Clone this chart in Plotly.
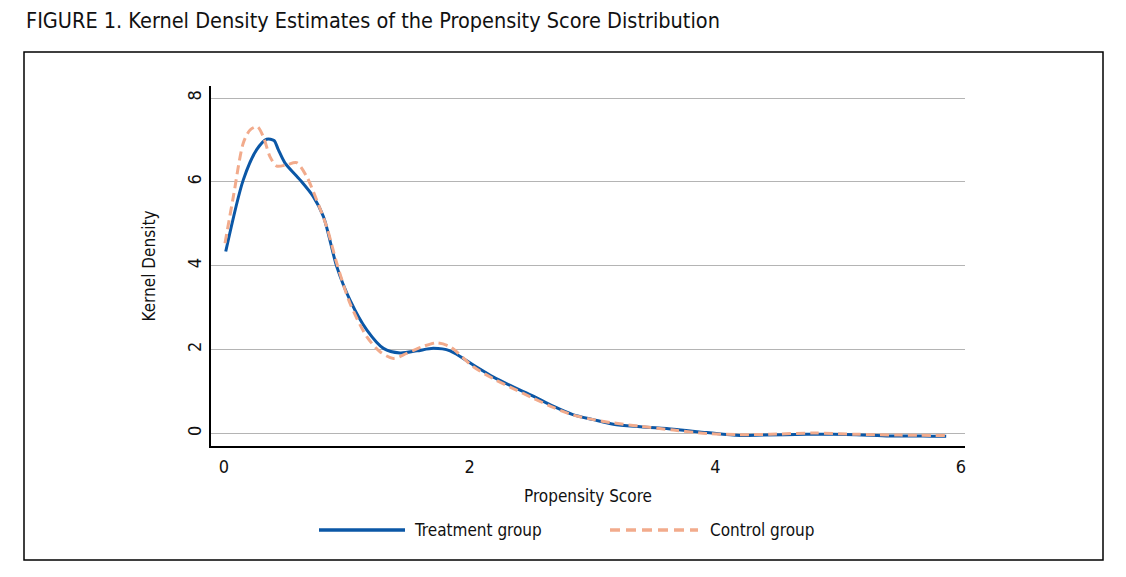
import plotly.graph_objects as go

# Kernel density curves
treat_x = [0.014, 0.157, 0.266, 0.347, 0.407, 0.442, 0.497, 0.619, 0.727, 0.81, 0.918, 1.026,
           1.162, 1.298, 1.433, 1.57, 1.705, 1.84, 2.03, 2.19, 2.355, 2.518, 2.68, 2.84,
           3.007, 3.17, 3.39, 3.66, 3.93, 4.2, 4.39, 4.74, 4.96, 5.15, 5.42, 5.69, 5.88]
treat_y = [4.34, 6.05, 6.77, 7.02, 6.99, 6.77, 6.45, 6.05, 5.65, 5.17, 3.98, 3.18,
           2.47, 2.03, 1.92, 1.97, 2.03, 1.97, 1.63, 1.35, 1.11, 0.89, 0.65, 0.45,
           0.33, 0.22, 0.16, 0.10, 0.02, -0.05, -0.04, -0.02, -0.02, -0.03, -0.06, -0.06, -0.07]

ctrl_x = [0.008, 0.076, 0.157, 0.212, 0.271, 0.32, 0.375, 0.429, 0.51, 0.591, 0.673, 0.754,
          0.836, 0.918, 1.026, 1.162, 1.27, 1.379, 1.487, 1.623, 1.731, 1.84, 2.03, 2.19,
          2.355, 2.518, 2.68, 2.84, 3.007, 3.17, 3.39, 3.66, 3.93, 4.2, 4.45, 4.8, 5.15,
          5.5, 5.88]
ctrl_y = [4.54, 5.65, 6.93, 7.24, 7.32, 7.08, 6.6, 6.38, 6.41, 6.46, 6.13, 5.57,
          4.93, 4.06, 3.10, 2.31, 1.95, 1.79, 1.91, 2.08, 2.16, 2.07, 1.59, 1.31,
          1.07, 0.84, 0.62, 0.44, 0.33, 0.25, 0.17, 0.08, 0.0, -0.03, -0.02, 0.01, -0.02,
          -0.04, -0.05]

x_ticks = [0, 2, 4, 6]
y_ticks = [0, 2, 4, 6, 8]

BLUE = '#0b57a6'
SALMON = '#f2ab8c'
FONT = 'DejaVu Sans Condensed, Liberation Sans Narrow, Arial Narrow, sans-serif'

# the page body has an 8px margin, so pixel positions below are page px - 8
PL, PT, PW, PH = 203, 78, 754, 360

def px(x):
    return (x - PL) / PW

def py(y):
    return (PT + PH - y) / PH

fig = go.Figure()
fig.add_trace(go.Scatter(x=treat_x, y=treat_y, mode='lines', name='Treatment group',
                         line=dict(color=BLUE, width=3, shape='spline', smoothing=0.8)))
fig.add_trace(go.Scatter(x=ctrl_x, y=ctrl_y, mode='lines', name='Control group',
                         line=dict(color=SALMON, width=3, dash='9px,5px', shape='spline', smoothing=0.8)))

fig.update_layout(
    width=1118, height=569,
    margin=dict(l=PL, r=1118 - PL - PW, t=PT, b=569 - PT - PH),
    paper_bgcolor='white', plot_bgcolor='white',
    font=dict(family=FONT, color='#111111', size=15),
    showlegend=False,
    xaxis=dict(range=[-0.106, 6.033], tickvals=x_ticks, showgrid=False, zeroline=False,
               showline=True, linecolor='black', linewidth=2, ticks='',
               tickfont=dict(size=18), ticklabelstandoff=3,
               title=dict(text='Propensity Score', font=dict(size=17), standoff=15)),
    yaxis=dict(range=[-0.30, 8.29], tickvals=y_ticks, showgrid=True, gridcolor='#b4b4b4',
               gridwidth=1, zeroline=False, showline=True, linecolor='black', linewidth=2,
               ticks='', tickangle=-90, tickfont=dict(size=18), ticklabelstandoff=1,
               title=dict(text='Kernel Density', font=dict(size=17), standoff=24)),
)

# outer frame
fig.add_shape(type='rect', xref='paper', yref='paper',
              x0=px(16), x1=px(1095), y0=py(552), y1=py(44),
              line=dict(color='black', width=1.5))

# figure caption
fig.add_annotation(text='FIGURE 1. Kernel Density Estimates of the Propensity Score Distribution',
                   xref='paper', yref='paper', x=px(16), y=py(12),
                   xanchor='left', yanchor='middle', showarrow=False,
                   font=dict(size=21.5, color='#111111'))

# legend drawn by hand so the line samples are long like the original
legend_items = [('Treatment group', BLUE, 'solid', 311, 397, 404),
                ('Control group', SALMON, '10px,6px', 602, 690, 700)]
for label, color, dash, lx0, lx1, tx in legend_items:
    ly = py(522)
    fig.add_shape(type='line', xref='paper', yref='paper',
                  x0=px(lx0), x1=px(lx1), y0=ly, y1=ly,
                  line=dict(color=color, width=3.5, dash=dash))
    fig.add_annotation(text=label, xref='paper', yref='paper', x=px(tx), y=ly,
                       xanchor='left', yanchor='middle', showarrow=False,
                       font=dict(size=17, color='#111111'))

fig.write_html("out.html")
